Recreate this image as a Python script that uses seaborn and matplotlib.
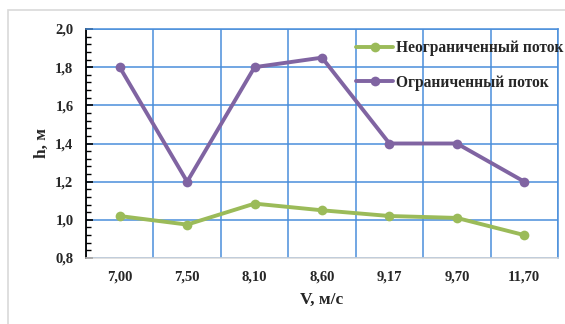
import matplotlib
matplotlib.use("Agg")
import matplotlib.pyplot as plt
import seaborn as sns
import pandas as pd
import numpy as np
from matplotlib.ticker import MultipleLocator, FixedLocator, FuncFormatter
from matplotlib.patches import Rectangle

categories = ["7,00", "7,50", "8,10", "8,60", "9,17", "9,70", "11,70"]
unlimited = [1.02, 0.975, 1.085, 1.05, 1.02, 1.01, 0.92]
limited = [1.80, 1.20, 1.80, 1.85, 1.40, 1.40, 1.20]
series_names = ["Неограниченный поток", "Ограниченный поток"]
colors = ["#9BBB59", "#8064A2"]

df = pd.DataFrame({
    "V": categories * 2,
    "h": unlimited + limited,
    "series": [series_names[0]] * len(categories) + [series_names[1]] * len(categories),
})

sns.set_style("white")
plt.rcParams["font.family"] = ["Liberation Serif", "DejaVu Serif"]
plt.rcParams["font.weight"] = "bold"

fig = plt.figure(figsize=(5.65, 3.24), dpi=100)
fig.patches.append(Rectangle((8 / 565, -0.1), 2, 1 - 10 / 324 + 0.1, transform=fig.transFigure,
                             fill=False, edgecolor="#D9D9D9", linewidth=1.2, zorder=0))
ax = fig.add_axes([86 / 565, 1 - 258 / 324, (558 - 86) / 565, (258 - 29) / 324])

sns.lineplot(data=df, x="V", y="h", hue="series", palette=colors, marker="o",
             markersize=7, markeredgewidth=0, linewidth=2.8, ax=ax, sort=False)

ax.set_xlim(-0.5, len(categories) - 0.5)
ax.set_ylim(0.8, 2.0)
ax.yaxis.set_major_locator(MultipleLocator(0.2))
ax.yaxis.set_minor_locator(MultipleLocator(0.04))
ax.yaxis.set_major_formatter(FuncFormatter(lambda v, p: f"{v:.1f}".replace(".", ",")))
ax.xaxis.set_minor_locator(FixedLocator(np.arange(-0.5, len(categories), 1.0)))

grid_c = "#4A8EDB"
ax.grid(False)
ax.yaxis.grid(True, which="major", color=grid_c, linewidth=1.1)
ax.xaxis.grid(True, which="minor", color=grid_c, linewidth=1.1)
ax.set_axisbelow(True)

for s in ["top", "right"]:
    ax.spines[s].set_color(grid_c)
    ax.spines[s].set_linewidth(1.1)
ax.spines["bottom"].set_color("#D9D9D9")
ax.spines["bottom"].set_linewidth(1.1)
ax.spines["left"].set_color("black")
ax.spines["left"].set_linewidth(1.3)

ax.tick_params(axis="y", which="major", direction="in", length=5, width=1.2, color="black",
               labelsize=10.5, pad=9, left=True)
ax.tick_params(axis="y", which="minor", direction="in", length=3.5, width=1.0, color="black", left=True)
ax.tick_params(axis="x", which="both", length=0, labelsize=10.5, pad=9)
for lbl in ax.get_xticklabels() + ax.get_yticklabels():
    lbl.set_fontweight("bold")

ax.set_xlabel("V, м/с", fontsize=12.5, fontweight="bold", labelpad=6)
ax.set_ylabel("h, м", fontsize=12.5, fontweight="bold", labelpad=4)

leg = ax.legend(loc="upper left", bbox_to_anchor=(356 / 565, 1 - 40 / 324),
                bbox_transform=fig.transFigure, frameon=False, fontsize=11.2,
                handlelength=2.4, handletextpad=0.15, labelspacing=1.2, borderaxespad=0,
                borderpad=0)
for t in leg.get_texts():
    t.set_fontweight("bold")

fig.savefig("out.png", dpi=100, facecolor="white")
